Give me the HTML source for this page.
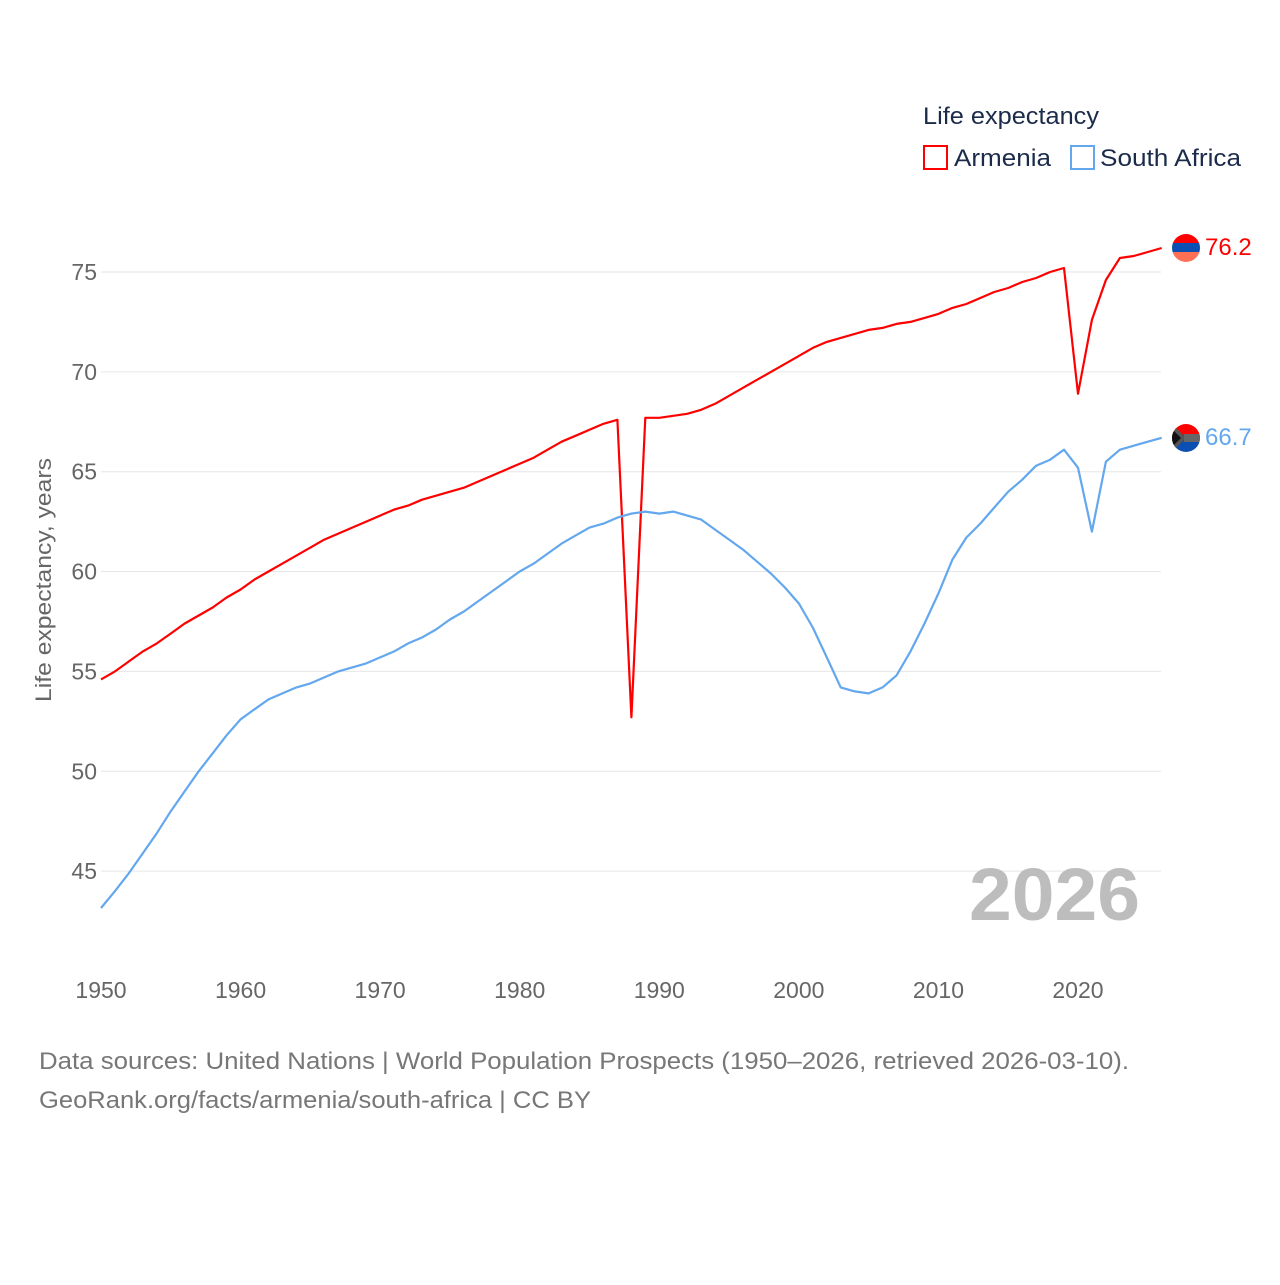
<!DOCTYPE html>
<html><head><meta charset="utf-8"><style>
body{margin:0;background:#fff;font-family:"Liberation Sans",sans-serif}
svg text{font-family:"Liberation Sans",sans-serif}
</style></head><body>
<svg id="chart" width="1280" height="1280" xmlns="http://www.w3.org/2000/svg">
<g id="grid"></g>
<g id="yticks"></g>
<g id="xticks"></g>
<text transform="translate(51,580) rotate(-90)" text-anchor="middle" font-size="22" fill="#666" textLength="244" lengthAdjust="spacingAndGlyphs">Life expectancy, years</text>
<text x="969" y="920" font-size="74" font-weight="bold" fill="#bdbdbd" textLength="171" lengthAdjust="spacingAndGlyphs">2026</text>
<g>
<text x="923" y="124" font-size="24" fill="#1c2b4a" textLength="176" lengthAdjust="spacingAndGlyphs">Life expectancy</text>
<rect x="924" y="146" width="23" height="23" fill="#fff" stroke="#ff0000" stroke-width="2"/>
<text x="954" y="166" font-size="24" fill="#1c2b4a" textLength="97" lengthAdjust="spacingAndGlyphs">Armenia</text>
<rect x="1071" y="146" width="23" height="23" fill="#fff" stroke="#63a7ee" stroke-width="2"/>
<text x="1100" y="166" font-size="24" fill="#1c2b4a" textLength="141" lengthAdjust="spacingAndGlyphs">South Africa</text>
</g>
<g id="series"></g>
<defs>
<clipPath id="c1"><circle cx="1186" cy="248" r="14"/></clipPath>
<clipPath id="c2"><circle cx="1186" cy="438" r="14"/></clipPath>
</defs>
<g clip-path="url(#c1)">
<rect x="1172" y="234" width="28" height="10" fill="#f00"/><rect x="1172" y="243" width="28" height="10" fill="#0b4fb2"/><rect x="1172" y="252" width="28" height="10" fill="#ff7055"/>
</g>
<g clip-path="url(#c2)">
<rect x="1172" y="424" width="28" height="14" fill="#f00"/><rect x="1172" y="438" width="28" height="14" fill="#0b4fb2"/>
<path d="M1172 424 L1186 438 L1172 452 Z" fill="#555"/><rect x="1184" y="434" width="16" height="8" fill="#666"/>
<path d="M1172 429 L1181 438 L1172 447 Z" fill="#111"/>
</g>
<text x="1205" y="255" font-size="24" fill="#ff0000">76.2</text>
<text x="1205" y="445" font-size="24" fill="#63a7ee">66.7</text>
<text x="39" y="1069" font-size="24" fill="#777" textLength="1090" lengthAdjust="spacingAndGlyphs">Data sources: United Nations | World Population Prospects (1950–2026, retrieved 2026-03-10).</text>
<text x="39" y="1108" font-size="24" fill="#777" textLength="552" lengthAdjust="spacingAndGlyphs">GeoRank.org/facts/armenia/south-africa | CC BY</text>
</svg>
<script>
const years = Array.from({length:77},(_, i)=>1950+i);
const armenia = [54.6,55.0,55.5,56.0,56.4,56.9,57.4,57.8,58.2,58.7,59.1,59.6,60.0,60.4,60.8,61.2,61.6,61.9,62.2,62.5,62.8,63.1,63.3,63.6,63.8,64.0,64.2,64.5,64.8,65.1,65.4,65.7,66.1,66.5,66.8,67.1,67.4,67.6,52.7,67.7,67.7,67.8,67.9,68.1,68.4,68.8,69.2,69.6,70.0,70.4,70.8,71.2,71.5,71.7,71.9,72.1,72.2,72.4,72.5,72.7,72.9,73.2,73.4,73.7,74.0,74.2,74.5,74.7,75.0,75.2,68.9,72.6,74.6,75.7,75.8,76.0,76.2];
const southAfrica = [43.15,44.0,44.9,45.9,46.9,48.0,49.0,50.0,50.9,51.8,52.6,53.1,53.6,53.9,54.2,54.4,54.7,55.0,55.2,55.4,55.7,56.0,56.4,56.7,57.1,57.6,58.0,58.5,59.0,59.5,60.0,60.4,60.9,61.4,61.8,62.2,62.4,62.7,62.9,63.0,62.9,63.0,62.8,62.6,62.1,61.6,61.1,60.5,59.9,59.2,58.4,57.2,55.7,54.2,54.0,53.9,54.2,54.8,56.0,57.4,58.9,60.6,61.7,62.4,63.2,64.0,64.6,65.3,65.6,66.1,65.2,62.0,65.5,66.1,66.3,66.5,66.7];
const yTicks = [45,50,55,60,65,70,75];
const xTicks = [1950,1960,1970,1980,1990,2000,2010,2020];
const NS="http://www.w3.org/2000/svg";
const xs = y => 101 + (y-1950)*13.957;
const ys = v => 272 + (75-v)*19.97;
function mk(tag, attrs, parent){const e=document.createElementNS(NS,tag);for(const k in attrs)e.setAttribute(k,attrs[k]);parent.appendChild(e);return e;}
const grid=document.getElementById('grid'), yt=document.getElementById('yticks'), xt=document.getElementById('xticks'), ser=document.getElementById('series');
yTicks.forEach(v=>{
  const l=mk('line',{x1:101,x2:1161,y1:ys(v),y2:ys(v),stroke:'#e6e6e6','stroke-width':1},grid);
  
  
  const t=mk('text',{x:97,y:ys(v)+8,'text-anchor':'end','font-size':23,fill:'#666'},yt);
  t.textContent=v;
  
  
});
xTicks.forEach(y=>{
  const t=mk('text',{x:xs(y),y:998,'text-anchor':'middle','font-size':23,fill:'#666'},xt);
  t.textContent=y;
  
  
});
function line(data,color,name){
  const d=data.map((v,i)=>(i?'L':'M')+xs(years[i]).toFixed(1)+' '+ys(v).toFixed(1)).join(' ');
  const p=mk('path',{d:d,fill:'none',stroke:color,'stroke-width':2.2,'stroke-linejoin':'round'},ser);
  
  
}
line(armenia,'#ff0000','armenia-line');
line(southAfrica,'#63a7ee','south-africa-line');
</script>
</body></html>
